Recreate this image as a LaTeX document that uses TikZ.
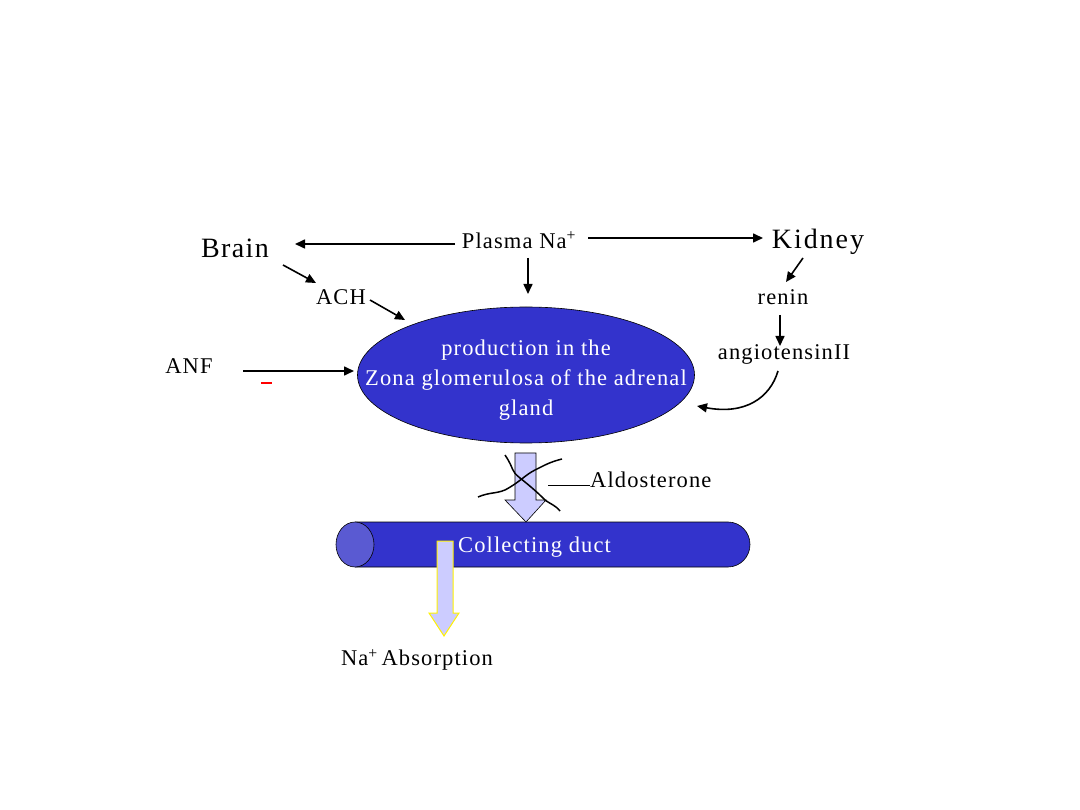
\documentclass[tikz,border=0pt]{standalone}
\usepackage{fontspec}
\setmainfont{Liberation Serif}[LetterSpace=5]
\usetikzlibrary{arrows.meta,shapes.geometric,calc}
\definecolor{zblue}{RGB}{51,51,204}
\definecolor{zlight}{RGB}{90,90,210}
\definecolor{lav}{RGB}{204,204,255}
\tikzset{
  lbl/.style={inner sep=0pt,font=\fontsize{22.5}{26}\selectfont},
  big/.style={inner sep=0pt,font=\fontsize{28}{32}\selectfont},
  arr/.style={-{Triangle[length=10pt,width=9pt]},line width=1.6pt},
  wtxt/.style={text=white,align=center,inner sep=0pt,font=\fontsize{22.5}{30}\selectfont}
}
\begin{document}
\begin{tikzpicture}[x=1pt,y=-1pt]
\useasboundingbox[fill=white] (0,0) rectangle (1080,810);
% nodes
\node[big] (brain) at (235,248) {Brain};
\node[lbl] (plasma) at (519,240) {Plasma Na\textsuperscript{+}};
\node[big,font=\fontsize{28}{32}\selectfont\addfontfeature{LetterSpace=7}] (kidney) at (818,242) {Kidney};
\node[lbl] (ach) at (341,297) {ACH};
\node[lbl] (anf) at (189,366) {ANF};
\node[lbl] (renin) at (783,297) {renin};
\node[lbl] (ang) at (784,354) {angiotensinII};
\draw[fill=zblue,line width=0.6pt] (526,375) ellipse [x radius=168.5,y radius=68];
\node[wtxt] (zona) at (526,380) {production in the\\Zona glomerulosa of the adrenal\\gland};
\node[lbl,anchor=west] (aldo) at (590,480) {Aldosterone};
% collecting duct
\fill[zblue] (355,522) -- (728,522) arc[start angle=-90,end angle=90,x radius=22,y radius=22.5] -- (355,567) -- cycle;
\draw[line width=0.6pt] (355,522) -- (728,522) arc[start angle=-90,end angle=90,x radius=22,y radius=22.5] -- (355,567);
\node[ellipse,draw=black,line width=0.6pt,fill=zlight,minimum width=38,minimum height=45,inner sep=0pt] (duct) at (355,544.5) {};
\node[lbl,text=white,anchor=west] (ducttxt) at (458,547) {Collecting duct};
\node[lbl] (na) at (417,660) {Na\textsuperscript{+}\,Absorption};
% named coordinates
\coordinate (pl) at (455,244);
\coordinate (br) at (295,244);
\coordinate (pr) at (588,238);
\coordinate (kd) at (763,238);
\coordinate (angend) at (697,406);
% arrows
\draw[arr] (pl) -- (br);
\draw[arr] (pr) -- (kd);
\draw[arr] (528,258) -- (528,294);
\draw[arr] (283,265) -- (316,283);
\draw[arr] (370,300) -- (405,320);
\draw[arr] (243,371) -- (354,371);
\draw[red,line width=2pt] (261,383) -- (272,383);
\draw[arr] (803,258) -- (786,282);
\draw[arr] (780,315) -- (780,346);
\draw[arr] (778,371) .. controls (770,398) and (745,415) .. (angend);
% aldosterone block arrow
\draw[fill=lav,line width=0.6pt] (515,453) -- (536,453) -- (536,500) -- (546,500) -- (526,522) -- (505,500) -- (515,500) -- cycle;
\draw[line width=1.5pt] (505,455) .. controls (515,470) and (510,470) .. (520,478) .. controls (535,490) and (540,495) .. (545,500) .. controls (552,505) and (555,505) .. (560,511);
\draw[line width=1.5pt] (478,497) .. controls (490,492) and (495,494) .. (505,490) .. controls (520,482) and (525,475) .. (535,470) .. controls (545,465) and (550,462) .. (562,459);
\draw[line width=1pt] (548,485) -- (aldo.west |- 0,485);
% Na absorption arrow
\draw[fill=lav,draw=yellow,line width=1pt] (437,541) -- (453,541) -- (453,613) -- (459,613) -- (444,636) -- (429,613) -- (437,613) -- cycle;
\end{tikzpicture}
\end{document}
